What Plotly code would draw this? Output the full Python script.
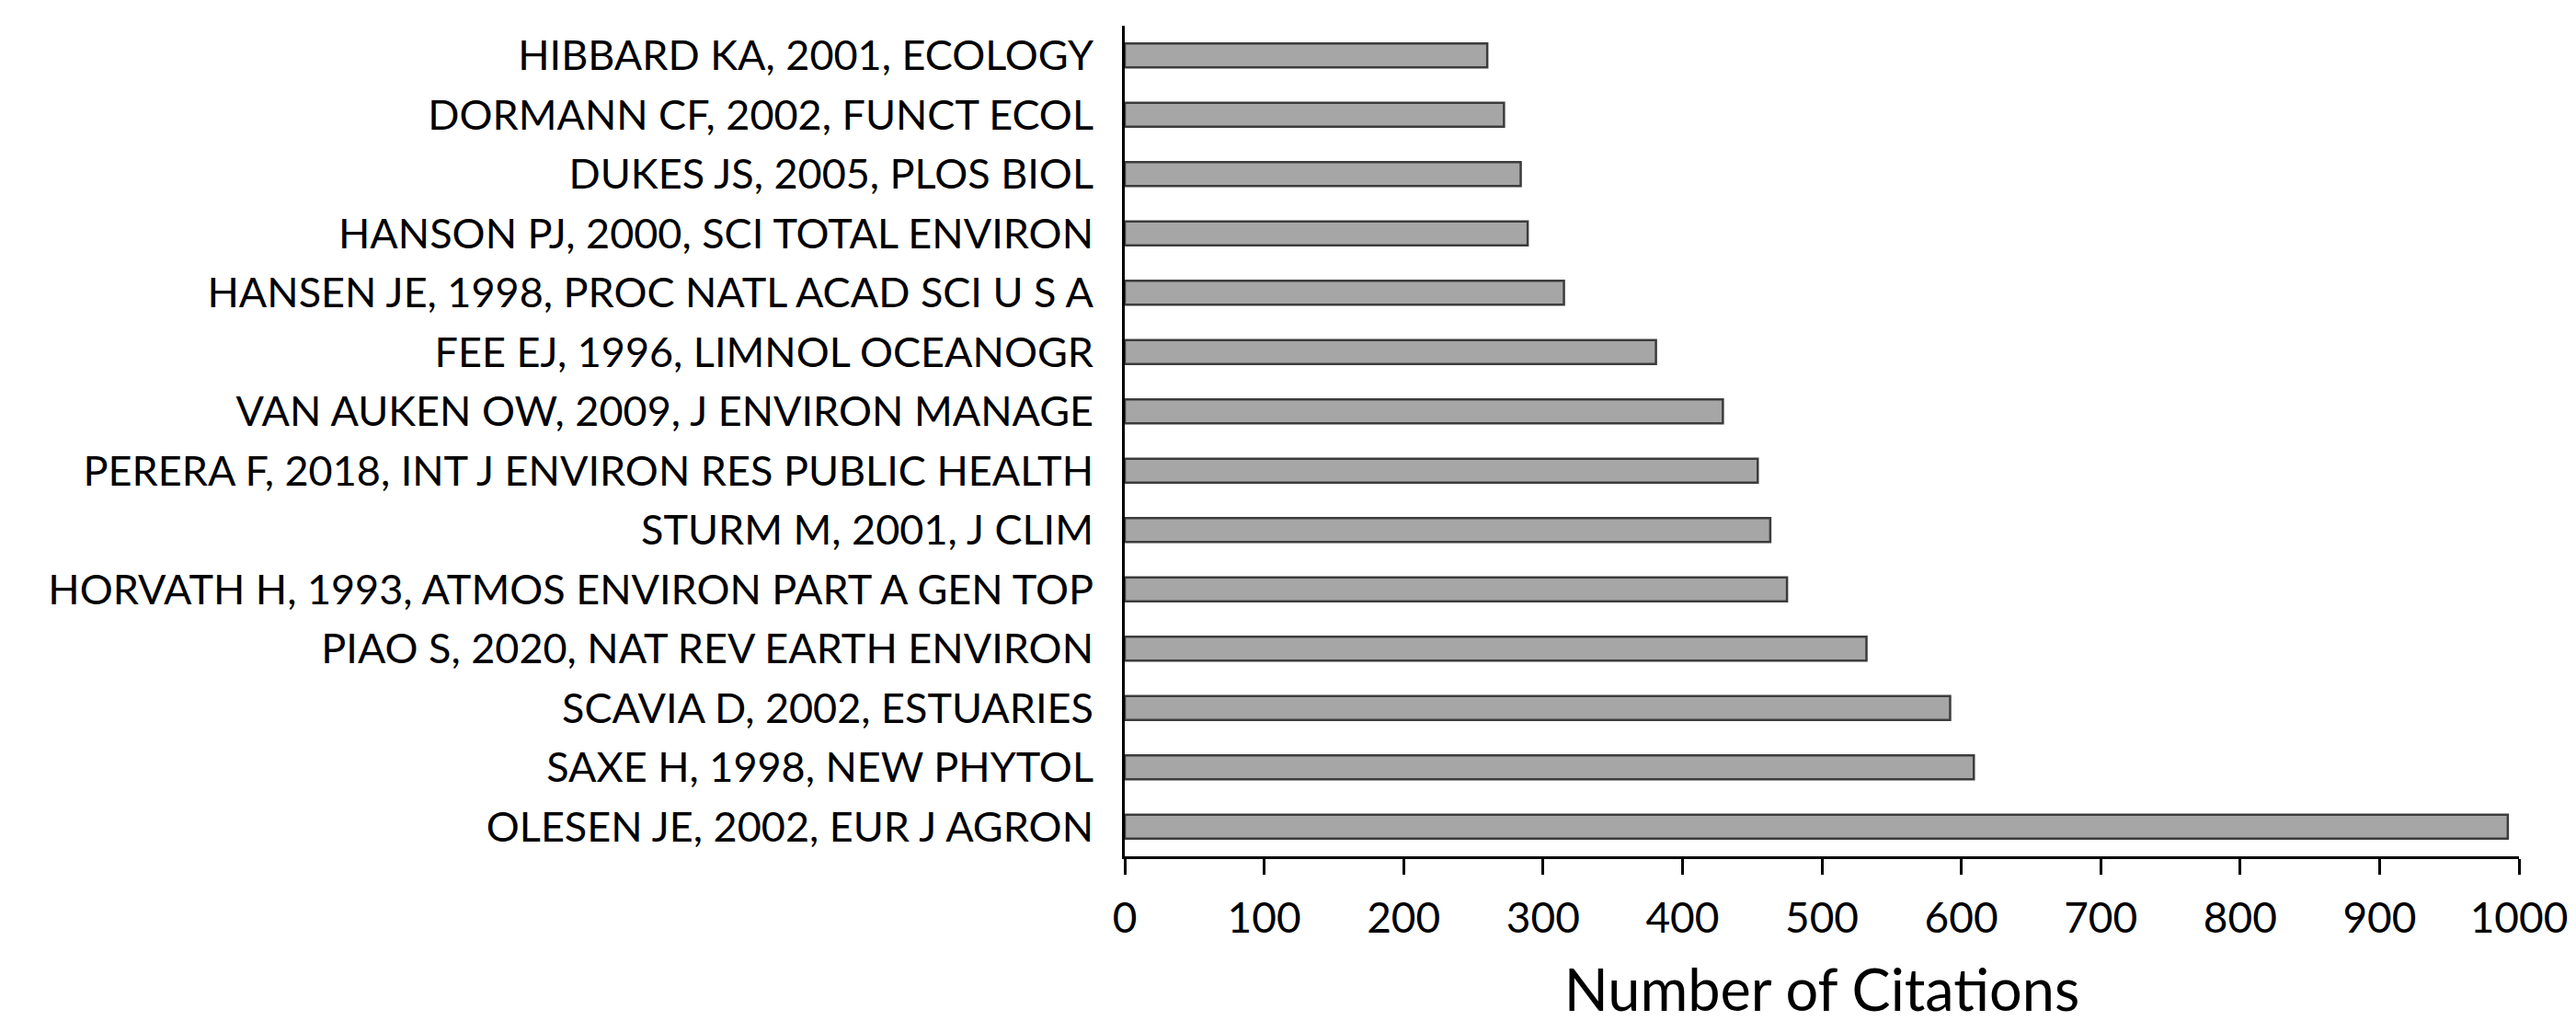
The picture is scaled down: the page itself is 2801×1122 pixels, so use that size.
import plotly.graph_objects as go

labels = [
    "HIBBARD KA, 2001, ECOLOGY",
    "DORMANN CF, 2002, FUNCT ECOL",
    "DUKES JS, 2005, PLOS BIOL",
    "HANSON PJ, 2000, SCI TOTAL ENVIRON",
    "HANSEN JE, 1998, PROC NATL ACAD SCI U S A",
    "FEE EJ, 1996, LIMNOL OCEANOGR",
    "VAN AUKEN OW, 2009, J ENVIRON MANAGE",
    "PERERA F, 2018, INT J ENVIRON RES PUBLIC HEALTH",
    "STURM M, 2001, J CLIM",
    "HORVATH H, 1993, ATMOS ENVIRON PART A GEN TOP",
    "PIAO S, 2020, NAT REV EARTH ENVIRON",
    "SCAVIA D, 2002, ESTUARIES",
    "SAXE H, 1998, NEW PHYTOL",
    "OLESEN JE, 2002, EUR J AGRON",
]
citations = [260, 272, 284, 289, 315, 381, 429, 454, 463, 475, 532, 592, 609, 992]
x_ticks = [0, 100, 200, 300, 400, 500, 600, 700, 800, 900, 1000]

FONT = "Lato"

fig = go.Figure(
    go.Bar(
        x=citations,
        y=labels,
        orientation="h",
        marker=dict(color="#A6A6A6", line=dict(color="#3C3C3C", width=2.5)),
        showlegend=False,
    )
)

fig.update_layout(
    width=2801,
    height=1122,
    margin=dict(l=1215, r=70, t=20, b=199, autoexpand=False),
    paper_bgcolor="white",
    plot_bgcolor="white",
    bargap=0.6,
    font=dict(family=FONT, color="black"),
)

fig.update_xaxes(
    range=[0, 1000],
    tickvals=x_ticks,
    ticktext=[str(v) for v in x_ticks],
    showgrid=False,
    zeroline=False,
    showline=True,
    linecolor="black",
    linewidth=3,
    ticks="outside",
    ticklen=17,
    tickwidth=2.5,
    tickcolor="black",
    tickfont=dict(family=FONT, size=46, color="black"),
    ticklabelstandoff=8,
    title=dict(text="Number of Citations", font=dict(family=FONT, size=63, color="black"), standoff=32),
)

fig.update_yaxes(
    autorange="reversed",
    showgrid=False,
    zeroline=False,
    showline=True,
    linecolor="black",
    linewidth=3,
    ticks="",
    tickfont=dict(family=FONT, size=45, color="black"),
    ticklabelstandoff=22,
)

fig.write_html("out.html")
